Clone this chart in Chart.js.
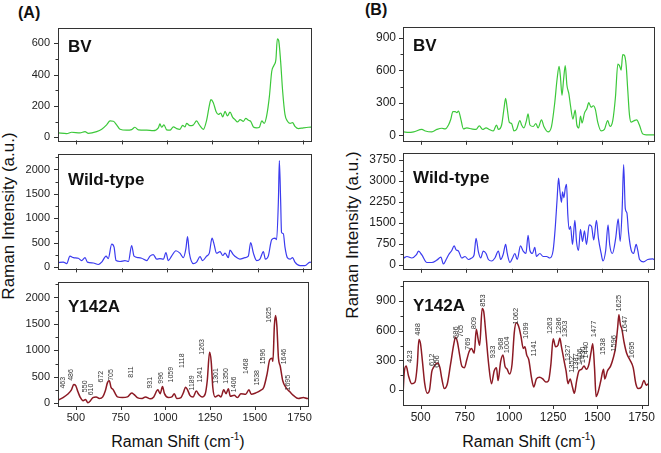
<!DOCTYPE html>
<html><head><meta charset="utf-8">
<script src="https://cdn.jsdelivr.net/npm/chart.js@4.4.1/dist/chart.umd.min.js"></script>
<style>
html,body{margin:0;padding:0;background:#fff;}
body{width:661px;height:453px;position:relative;overflow:hidden;font-family:"Liberation Sans",Arial,sans-serif;}
canvas{position:absolute;}
.t{position:absolute;color:#111;white-space:nowrap;}
.yt{width:200px;height:20px;line-height:20px;text-align:center;font-size:17px;transform:rotate(-90deg);transform-origin:50% 50%;}
.xt{width:200px;height:16px;line-height:16px;text-align:center;font-size:16px;}
.pn{font-weight:bold;font-size:16px;line-height:16px;}
</style></head><body>
<div class="t pn" style="left:18px;top:5px">(A)</div>
<div class="t pn" style="left:365px;top:2px">(B)</div>
<div class="t yt" style="left:-91px;top:206px">Raman Intensity (a.u.)</div>
<div class="t yt" style="left:253px;top:225px">Raman Intensity (a.u.)</div>
<div class="t xt" style="left:78px;top:434px">Raman Shift (cm<span style="font-size:10px;position:relative;top:-7px">-1</span>)</div>
<div class="t xt" style="left:429px;top:434px">Raman Shift (cm<span style="font-size:10px;position:relative;top:-7px">-1</span>)</div>
<script>
// ---------- data (Raman shift cm-1, intensity a.u.) ----------
const xTicks = [500, 750, 1000, 1250, 1500, 1750];

const aBV = [[400,28],[448,23],[475,32],[521,28],[549,36],[567,25],[613,36],[641,51],[668,79],[687,104],[705,102],[723,79],[742,51],[778,45],[806,49],[824,64],[843,47],[889,45],[925,42],[953,60],[962,85],[971,64],[984,79],[999,47],[1017,45],[1036,66],[1054,55],[1072,51],[1087,76],[1100,66],[1109,89],[1127,74],[1146,79],[1164,104],[1179,79],[1201,51],[1219,108],[1234,202],[1243,240],[1256,221],[1271,165],[1284,146],[1297,155],[1308,130],[1321,165],[1334,136],[1348,161],[1363,127],[1376,112],[1389,98],[1404,112],[1422,102],[1435,121],[1450,108],[1462,102],[1477,66],[1495,60],[1510,64],[1523,104],[1537,89],[1550,136],[1565,259],[1578,420],[1590,458],[1601,496],[1609,628],[1616,619],[1627,486],[1638,297],[1651,146],[1664,104],[1679,89],[1693,93],[1706,70],[1725,55],[1752,60],[1780,64],[1800,65]];

const aWT = [[400,92],[429,104],[448,73],[466,226],[485,196],[512,183],[530,135],[549,196],[562,104],[595,86],[622,55],[641,104],[665,226],[677,177],[696,471],[709,410],[720,135],[742,116],[769,135],[788,116],[806,440],[819,226],[843,196],[861,183],[889,135],[907,226],[925,257],[944,165],[962,177],[981,165],[995,300],[1008,135],[1026,226],[1050,336],[1072,287],[1091,196],[1105,379],[1114,624],[1124,287],[1146,73],[1164,104],[1183,214],[1197,135],[1219,226],[1234,287],[1249,593],[1260,471],[1274,287],[1293,318],[1308,239],[1321,287],[1339,196],[1348,349],[1366,257],[1385,196],[1403,165],[1431,196],[1449,226],[1462,502],[1477,287],[1495,135],[1513,165],[1532,318],[1543,165],[1559,226],[1578,563],[1596,593],[1605,563],[1615,1388],[1620,2183],[1627,1388],[1632,716],[1642,685],[1651,410],[1664,196],[1679,165],[1693,196],[1706,104],[1734,31],[1761,31],[1789,104],[1800,90]];

const aY142A = [[400,61],[428,110],[457,183],[475,256],[488,354],[499,335],[512,213],[525,110],[540,49],[554,73],[567,12],[580,43],[595,110],[613,122],[631,91],[650,122],[665,244],[677,396],[687,427],[696,305],[709,256],[720,183],[732,122],[760,110],[788,122],[812,195],[824,171],[843,110],[870,91],[889,122],[916,85],[935,122],[958,256],[971,183],[984,317],[995,183],[1017,110],[1036,122],[1050,183],[1063,91],[1087,110],[1100,195],[1113,305],[1124,256],[1137,152],[1155,122],[1173,232],[1186,171],[1205,122],[1223,183],[1234,427],[1247,964],[1256,793],[1265,305],[1278,122],[1297,152],[1311,122],[1326,256],[1339,183],[1352,274],[1363,134],[1385,152],[1403,110],[1422,183],[1449,171],[1467,256],[1480,171],[1504,195],[1532,244],[1550,305],[1568,549],[1583,823],[1596,854],[1601,793],[1609,1463],[1616,1659],[1623,1463],[1632,854],[1642,701],[1656,427],[1675,293],[1697,213],[1715,152],[1743,91],[1771,110],[1793,91],[1800,95]];

const bBV = [[404,33],[431,27],[459,33],[504,55],[523,41],[559,33],[587,55],[614,66],[633,60],[651,96],[664,151],[675,220],[688,220],[697,211],[706,225],[719,151],[733,60],[752,69],[779,60],[803,55],[821,88],[839,55],[858,69],[876,55],[898,41],[916,96],[926,55],[944,96],[957,247],[966,343],[975,247],[986,123],[999,110],[1012,41],[1026,55],[1045,137],[1054,96],[1067,69],[1081,137],[1090,198],[1100,96],[1118,82],[1133,110],[1145,69],[1164,143],[1177,82],[1200,33],[1219,82],[1237,302],[1250,521],[1261,637],[1268,549],[1277,370],[1286,521],[1295,645],[1304,466],[1315,384],[1324,274],[1337,151],[1350,233],[1359,96],[1370,69],[1379,178],[1388,115],[1401,206],[1414,247],[1425,302],[1437,261],[1450,274],[1461,241],[1474,123],[1493,41],[1511,55],[1529,137],[1542,82],[1557,137],[1572,357],[1585,659],[1594,645],[1603,604],[1612,746],[1621,741],[1631,645],[1640,412],[1649,192],[1658,123],[1676,137],[1689,143],[1704,96],[1722,14],[1741,5],[1768,5],[1788,5]];

const bWT = [[404,238],[422,292],[449,238],[473,346],[486,486],[504,346],[532,76],[559,76],[587,162],[609,270],[623,22],[638,184],[651,346],[669,508],[682,670],[693,530],[706,486],[724,238],[742,292],[761,184],[779,238],[792,346],[803,940],[816,454],[828,238],[843,486],[858,400],[871,184],[889,130],[907,238],[926,486],[939,184],[953,378],[966,724],[975,400],[990,76],[1004,238],[1017,400],[1030,184],[1048,670],[1063,486],[1078,400],[1090,1048],[1100,508],[1114,400],[1127,616],[1136,292],[1155,400],[1173,292],[1192,292],[1210,238],[1228,508],[1239,1264],[1250,2345],[1258,3102],[1265,2669],[1274,2237],[1280,2615],[1287,2399],[1296,2777],[1302,2885],[1309,1805],[1317,1264],[1324,1372],[1335,724],[1348,1589],[1357,832],[1368,508],[1379,1264],[1390,832],[1401,1210],[1412,724],[1427,1426],[1440,1372],[1452,886],[1467,1589],[1478,940],[1493,400],[1503,130],[1518,508],[1531,1426],[1540,724],[1555,400],[1573,940],[1587,1643],[1598,832],[1609,2021],[1617,3588],[1626,2021],[1635,1859],[1644,1156],[1659,508],[1672,400],[1686,724],[1695,508],[1705,184],[1727,97],[1750,184],[1778,205],[1788,162]];

const bY142A = [[400,-49],[407,178],[418,243],[431,146],[449,65],[468,81],[481,259],[490,511],[499,469],[510,291],[523,65],[537,-32],[550,0],[563,188],[572,227],[583,259],[596,275],[609,227],[620,113],[634,16],[651,65],[669,259],[688,469],[697,534],[708,486],[719,372],[733,243],[748,227],[761,307],[774,388],[788,421],[803,372],[815,615],[825,518],[834,453],[848,825],[857,793],[870,550],[885,259],[901,65],[916,194],[929,227],[938,97],[953,291],[966,356],[977,243],[990,210],[1003,162],[1017,259],[1030,583],[1041,680],[1054,647],[1067,550],[1081,421],[1090,437],[1100,356],[1112,307],[1127,129],[1140,32],[1155,113],[1173,129],[1191,113],[1209,81],[1224,97],[1237,259],[1250,518],[1264,437],[1277,453],[1288,524],[1297,437],[1304,372],[1314,275],[1323,194],[1334,65],[1346,113],[1359,32],[1370,-32],[1383,97],[1396,194],[1410,210],[1425,243],[1438,210],[1452,259],[1465,388],[1474,469],[1484,227],[1493,-65],[1505,-16],[1520,97],[1535,210],[1542,113],[1557,194],[1575,243],[1590,324],[1602,421],[1615,631],[1622,761],[1630,664],[1639,615],[1651,486],[1666,372],[1684,307],[1703,227],[1718,65],[1731,16],[1749,32],[1764,97],[1777,49],[1788,65]];

// peak labels: [text, shift anchor, intensity anchor]
const aY142ANotes = [["463",429,280],["486",475,426],["550",554,212],["610",586,152],["672",641,395],["705",696,426],["811",810,486],["931",913,280],["996",975,371],["1059",1030,395],["1118",1095,669],["1189",1151,243],["1241",1195,395],["1263",1205,920],["1301",1284,371],["1350",1339,371],["1406",1385,212],["1468",1449,554],["1538",1514,335],["1596",1545,737],["1625",1578,1523],["1646",1664,737],["1695",1685,243]];
const bY142ANotes = [["423",440,275],["488",486,550],["612",563,243],["656",590,226],["686",697,517],["705",730,534],["769",766,405],["809",803,615],["853",852,842],["933",911,323],["968",957,405],["1004",990,372],["1062",1041,663],["1099",1096,517],["1141",1140,340],["1263",1233,566],["1286",1282,566],["1303",1319,534],["1327",1332,291],["1352",1356,175],["1387",1378,204],["1406",1402,252],["1430",1416,272],["1440",1438,320],["1477",1480,534],["1538",1530,356],["1596",1594,388],["1625",1621,793],["1647",1658,583],["1695",1694,323]];

// y tick values
const aBVMajor = [0,200,400,600], aBVMinor = [100,300,500];
const aWTMajor = [0,500,1000,1500,2000], aWTMinor = [250,750,1250,1750,2250];
const aYMajor = [0,500,1000,1500,2000], aYMinor = [250,750,1250,1750,2250];
const bBVMajor = [0,300,600,900], bBVMinor = [150,450,750];
const bWTMajor = [0,750,1500,2250,3000,3750], bWTMinor = [375,1125,1875,2625,3375];
const bYMajor = [0,300,600,900], bYMinor = [150,450,750,1050];

// ---------- drawing ----------
Chart.defaults.font.family = '"Liberation Sans", Arial, sans-serif';
const PAD_L = 50, PAD_T = 10, PAD_R = 5;

const framePlugin = {
  id: 'frame',
  afterDraw(chart, args, o) {
    const ctx = chart.ctx, a = chart.chartArea;
    const xs = chart.scales.x, ys = chart.scales.y;
    ctx.save();
    ctx.strokeStyle = '#333'; ctx.lineWidth = 1;
    ctx.strokeRect(Math.round(a.left) + 0.5, Math.round(a.top) + 0.5, Math.round(a.right - a.left) - 1, Math.round(a.bottom - a.top));
    ctx.beginPath();
    o.major.forEach(v => { const y = Math.round(ys.getPixelForValue(v)) + 0.5; ctx.moveTo(a.left, y); ctx.lineTo(a.left - 4, y); });
    o.minor.forEach(v => { const y = Math.round(ys.getPixelForValue(v)) + 0.5; ctx.moveTo(a.left, y); ctx.lineTo(a.left - 2.5, y); });
    xTicks.forEach(v => { const x = Math.round(xs.getPixelForValue(v)) + 0.5; ctx.moveTo(x, a.bottom); ctx.lineTo(x, a.bottom + 4); });
    ctx.stroke();
    ctx.fillStyle = '#111';
    ctx.font = 'bold 17px "Liberation Sans", Arial, sans-serif';
    ctx.textAlign = 'left'; ctx.textBaseline = 'alphabetic';
    ctx.fillText(o.label, a.left + 10, a.top + o.labelDy);
    if (o.notes) {
      ctx.fillStyle = '#333';
      ctx.font = o.noteFont + 'px "Liberation Sans", Arial, sans-serif';
      ctx.textBaseline = 'middle';
      o.notes.forEach(n => {
        const px = xs.getPixelForValue(n[1]), py = ys.getPixelForValue(n[2]);
        ctx.save(); ctx.translate(px, py); ctx.rotate(-Math.PI / 2);
        ctx.fillText(n[0], 0, 0); ctx.restore();
      });
    }
    ctx.restore();
  }
};

function mk(cfg) {
  const c = document.createElement('canvas');
  const bottomH = cfg.bottom ? 26 : 6;
  const w = cfg.w + PAD_L + PAD_R, h = cfg.h + PAD_T + bottomH;
  c.width = w; c.height = h;
  c.style.left = (cfg.x - PAD_L) + 'px'; c.style.top = (cfg.y - PAD_T) + 'px';
  c.style.width = w + 'px'; c.style.height = h + 'px';
  document.body.appendChild(c);
  new Chart(c, {
    type: 'line',
    data: { datasets: [{
      data: cfg.pts.map(p => ({ x: p[0], y: p[1] })),
      borderColor: cfg.color, borderWidth: cfg.lw || 1.2, pointRadius: 0,
      cubicInterpolationMode: 'monotone', fill: false
    }] },
    options: {
      responsive: false, animation: false, devicePixelRatio: 1,
      layout: { padding: { left: 0, right: PAD_R, top: PAD_T, bottom: 0 } },
      plugins: {
        legend: { display: false }, tooltip: { enabled: false },
        frame: { major: cfg.major, minor: cfg.minor, label: cfg.label, labelDy: cfg.labelDy, notes: cfg.notes, noteFont: cfg.noteFont }
      },
      scales: {
        x: {
          type: 'linear', min: 400, max: cfg.xMax,
          afterFit: s => { s.height = bottomH; },
          afterBuildTicks: s => { s.ticks = xTicks.map(v => ({ value: v })); },
          grid: { display: false, drawTicks: false }, border: { display: false },
          ticks: { display: !!cfg.bottom, color: '#222', font: { size: cfg.fs }, padding: 5, maxRotation: 0, autoSkip: false, callback: v => String(v) }
        },
        y: {
          type: 'linear', min: cfg.yMin, max: cfg.yMax,
          afterFit: s => { s.width = PAD_L; },
          afterBuildTicks: s => { s.ticks = cfg.major.map(v => ({ value: v })); },
          grid: { display: false, drawTicks: false }, border: { display: false },
          ticks: { color: '#222', font: { size: cfg.fs }, padding: cfg.yPad, autoSkip: false, callback: v => String(v) }
        }
      }
    },
    plugins: [framePlugin]
  });
}

const GREEN = '#3cc83a', BLUE = '#3b3bef', RED = '#8c1a24';
mk({ x: 58, y: 23, w: 254, h: 126, pts: aBV, color: GREEN, xMax: 1800, yMin: -20, yMax: 700, major: aBVMajor, minor: aBVMinor, label: 'BV', labelDy: 24, fs: 11, yPad: 8 });
mk({ x: 58, y: 149, w: 254, h: 128, pts: aWT, color: BLUE, xMax: 1800, yMin: -25, yMax: 2325, major: aWTMajor, minor: aWTMinor, label: 'Wild-type', labelDy: 31, fs: 11, yPad: 8 });
mk({ x: 58, y: 277, w: 254, h: 129, pts: aY142A, color: RED, lw: 1.5, xMax: 1800, yMin: -50, yMax: 2300, major: aYMajor, minor: aYMinor, label: 'Y142A', labelDy: 30, fs: 11, yPad: 8, bottom: true, notes: aY142ANotes, noteFont: 7 });
mk({ x: 403, y: 23, w: 252, h: 126, pts: bBV, color: GREEN, xMax: 1790, yMin: -50, yMax: 1000, major: bBVMajor, minor: bBVMinor, label: 'BV', labelDy: 24, fs: 12, yPad: 7 });
mk({ x: 403, y: 149, w: 252, h: 128, pts: bWT, color: BLUE, xMax: 1790, yMin: -150, yMax: 4000, major: bWTMajor, minor: bWTMinor, label: 'Wild-type', labelDy: 30, fs: 12, yPad: 7 });
mk({ x: 403, y: 277, w: 252, h: 128, pts: bY142A, color: RED, lw: 1.5, xMax: 1790, yMin: -150, yMax: 1100, major: bYMajor, minor: bYMinor, label: 'Y142A', labelDy: 30, fs: 12, yPad: 7, bottom: true, notes: bY142ANotes, noteFont: 7.5 });
</script>
</body></html>
